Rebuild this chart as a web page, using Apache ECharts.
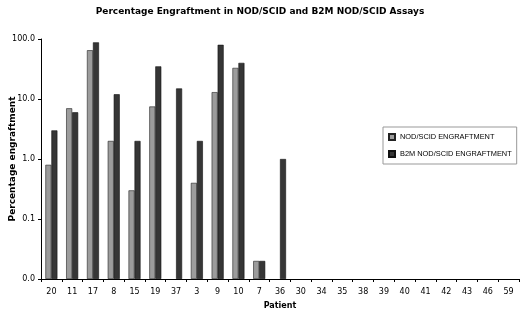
<!DOCTYPE html>
<html>
<head>
<meta charset="utf-8">
<script src="https://cdn.jsdelivr.net/npm/echarts@6/dist/echarts.min.js"></script>
<style>
html, body { margin: 0; padding: 0; background: #fff; }
#chart { width: 520px; height: 310px; }
</style>
</head>
<body>
<div id="chart"></div>
<script>
var patients = ['20', '11', '17', '8', '15', '19', '37', '3', '9', '10', '7', '36', '30', '34', '35', '38', '39', '40', '41', '42', '43', '46', '59'];
var nodScid = [0.8, 7.0, 65, 2.0, 0.3, 7.5, null, 0.4, 13, 33, 0.02, null, null, null, null, null, null, null, null, null, null, null, null];
var b2mNodScid = [3.0, 6.0, 88, 12, 2.0, 35, 15, 2.0, 80, 40, 0.02, 1.0, null, null, null, null, null, null, null, null, null, null, null];

var font = 'DejaVu Sans';

//主图
var engraftChart = function () {
    var myChart = echarts.init(document.getElementById('chart'));
    var option = {
        animation: false,
        title: {
            text: 'Percentage Engraftment in NOD/SCID and B2M NOD/SCID Assays',
            left: 'center',
            top: 2,
            textStyle: {
                fontFamily: font,
                fontSize: 9,
                fontWeight: 'bold',
                color: '#000'
            }
        },
        legend: {
            orient: 'vertical',
            left: 383,
            top: 127,
            padding: [6, 5, 6, 5],
            itemGap: 9,
            itemWidth: 6,
            itemHeight: 6,
            borderColor: '#999',
            borderWidth: 1,
            borderRadius: 0,
            icon: 'rect',
            textStyle: {
                fontFamily: 'Liberation Sans',
                fontSize: 7.4,
                color: '#000'
            }
        },
        grid: {
            left: 41,
            right: 1,
            top: 39,
            bottom: 31,
            outerBoundsMode: 'none',
            containLabel: false
        },
        xAxis: {
            type: 'category',
            data: patients,
            name: 'Patient',
            nameLocation: 'middle',
            nameGap: 23,
            nameMoveOverlap: false,
            nameTextStyle: {
                fontFamily: font,
                fontSize: 8,
                fontWeight: 'bold',
                color: '#000'
            },
            axisLine: { lineStyle: { color: '#000', width: 1 } },
            axisTick: { show: true, length: 3, lineStyle: { color: '#000' } },
            axisLabel: {
                fontFamily: font,
                fontSize: 8,
                color: '#000',
                margin: 9,
                interval: 0
            }
        },
        yAxis: {
            type: 'log',
            logBase: 10,
            min: 0.01,
            max: 100,
            startValue: 0.01,
            name: 'Percentage engraftment',
            nameLocation: 'middle',
            nameGap: 24,
            nameMoveOverlap: false,
            nameTextStyle: {
                fontFamily: font,
                fontSize: 9,
                fontWeight: 'bold',
                color: '#000'
            },
            axisLine: { show: true, lineStyle: { color: '#000', width: 1 } },
            axisTick: { show: true, length: 3, lineStyle: { color: '#000' } },
            splitLine: { show: false },
            axisLabel: {
                fontFamily: font,
                fontSize: 8,
                color: '#000',
                margin: 6,
                formatter: function (v) {
                    return v.toFixed(1);
                }
            }
        },
        series: [
            {
                name: 'NOD/SCID ENGRAFTMENT',
                type: 'bar',
                data: nodScid,
                barWidth: 6,
                barGap: '0%',
                itemStyle: {
                    color: '#9c9c9c',
                    borderColor: '#222',
                    borderWidth: 0.6
                }
            },
            {
                name: 'B2M NOD/SCID ENGRAFTMENT',
                type: 'bar',
                data: b2mNodScid,
                barWidth: 6,
                barGap: '0%',
                itemStyle: {
                    color: '#363636',
                    borderColor: '#111',
                    borderWidth: 0.6
                }
            }
        ]
    };
    myChart.setOption(option);
};

engraftChart();
</script>
</body>
</html>
